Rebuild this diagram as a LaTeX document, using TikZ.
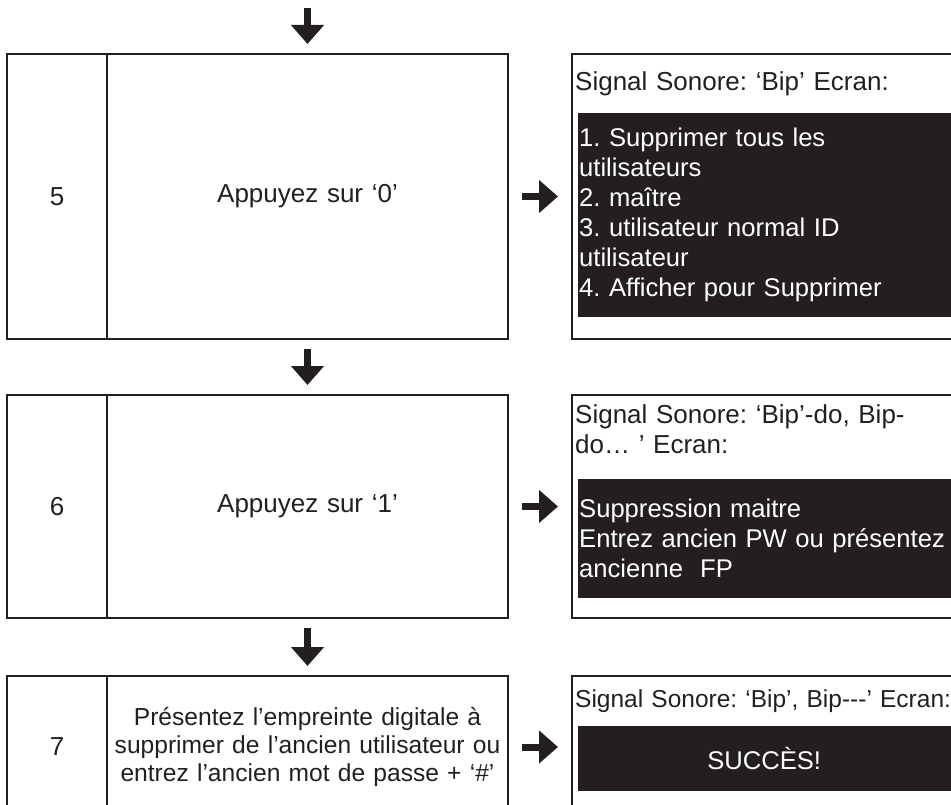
\documentclass[tikz,border=0pt]{standalone}
\usepackage{fontspec}
\setmainfont{Liberation Sans}
\usepackage{tikz}
\usetikzlibrary{arrows.meta,calc,positioning}
\frenchspacing
\definecolor{ink}{RGB}{35,31,32}
\tikzstyle{cell}=[draw=ink, line width=1.8pt, outer sep=0pt, inner sep=0pt, text=ink]
\tikzstyle{numcell}=[cell, minimum width=100pt]
\tikzstyle{actcell}=[cell, minimum width=401pt, text width=396pt, align=center]
\tikzstyle{panel}=[cell, minimum width=400pt]
\tikzset{%
    header/.style={anchor=west, inner sep=0pt, text width=390pt, align=left, text=ink},
    screen/.style={anchor=north west, fill=ink, text=white, inner xsep=1pt, inner ysep=0pt, text width=388pt, align=left, font=\fontsize{25.6}{30}\selectfont},
    flow/.style={draw=ink, line width=6.5pt, -{Triangle[width=32pt,length=19pt]}},
  }

\begin{document}
\begin{tikzpicture}[x=1pt, y=-1pt, font=\fontsize{26}{30}\selectfont]
    \useasboundingbox (0,0) rectangle (951,805);
    \clip (0,0) rectangle (951,805);
    % rows
    \node (n5) [numcell, minimum height=285pt] at (57,196.5) {5};
    \node (a5) [actcell, minimum height=285pt, right=0pt of n5] {Appuyez sur ‘0’};
    \node (p5) [panel, minimum height=285pt, right=64pt of a5] {};
    \node (n6) [numcell, minimum height=223pt, below=56pt of n5] {6};
    \node (a6) [actcell, minimum height=223pt, right=0pt of n6] {Appuyez sur ‘1’};
    \node (p6) [panel, minimum height=223pt, right=64pt of a6] {};
    \node (n7) [numcell, minimum height=142pt, below=58pt of n6] {7};
    \node (a7) [actcell, minimum height=142pt, right=0pt of n7, font=\fontsize{24.6}{28}\selectfont] {Présentez l’empreinte digitale à\\supprimer de l’ancien utilisateur ou\\entrez l’ancien mot de passe + ‘\#’};
    \node (p7) [panel, minimum height=142pt, right=64pt of a7] {};
    %
    \node (s5) [screen, minimum height=204pt] at ($(p5.north west)+(6,59)$) {1. Supprimer tous les\\utilisateurs\\2. maître\\3. utilisateur normal ID\\utilisateur\\4. Afficher pour Supprimer};
    \node (h5) [header] at ($(p5.north west)!0.5!(s5.north west)$) {Signal Sonore: ‘Bip’ Ecran:};
    \node (s6) [screen, minimum height=119pt] at ($(p6.north west)+(6,84)$) {Suppression maitre\\Entrez ancien PW ou présentez\\ancienne\ \ FP};
    \node (h6) [header, yshift=8pt] at ($(p6.north west)!0.5!(s6.north west)$) {Signal Sonore: ‘Bip’-do, Bip-\\do… ’ Ecran:};
    \node (s7) [screen, minimum height=65pt] at ($(p7.north west)+(6,50)$) {\makebox[370pt]{SUCCÈS!}};
    \node (h7) [header, font=\fontsize{24.5}{28}\selectfont] at ($(p7.north west)!0.5!(s7.north west)$) {Signal Sonore: ‘Bip’, Bip-{}-{}-’ Ecran:};
    %
    \coordinate (top) at (307.5,8);
    \draw [flow, shorten >=10pt] (top) -- (a5.north);
    \draw [flow, shorten <=10pt, shorten >=10pt] (a5.south) -- (a6.north);
    \draw [flow, shorten <=10pt, shorten >=10pt] (a6.south) -- (a7.north);
    \draw [flow, line width=7pt, shorten <=14pt, shorten >=14pt] (a5.east) -- (p5.west);
    \draw [flow, line width=7pt, shorten <=14pt, shorten >=14pt] (a6.east) -- (p6.west);
    \draw [flow, line width=7pt, shorten <=14pt, shorten >=14pt] (a7.east) -- (p7.west);
  \end{tikzpicture}
\end{document}
